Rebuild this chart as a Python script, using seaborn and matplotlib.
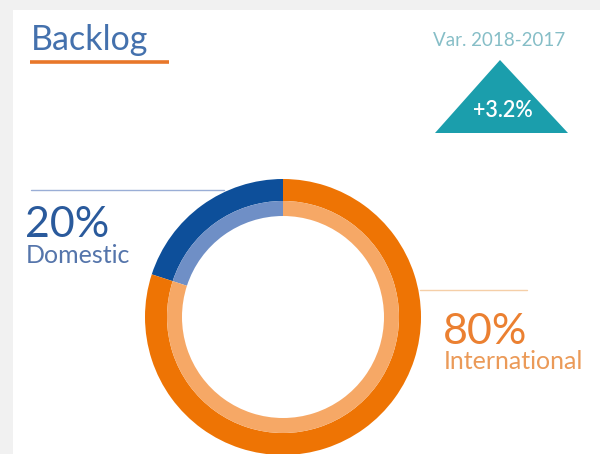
import seaborn as sns
import matplotlib.pyplot as plt
from matplotlib.patches import Rectangle, Polygon

# data
segments = ["Domestic", "International"]
shares = [20, 80]
variation = 3.2
var_label = "Var. 2018-2017"
title = "Backlog"

dark_colors = ["#0d4f9a", "#ee7404"]
light_colors = ["#6f8fc6", "#f6a866"]

sns.set_theme(style="white")
plt.rcParams["font.family"] = ["Lato", "DejaVu Sans"]

fig = plt.figure(figsize=(6, 4.54), dpi=100, facecolor="#f1f1f1")
ax = fig.add_axes([0, 0, 1, 1])
ax.set_facecolor("#f1f1f1")

H = 454  # work in pixel coords, y measured from the top

def Y(y):
    return H - y

# white card
ax.add_patch(Rectangle((13, 0), 600, Y(10), facecolor="white", edgecolor="none", zorder=0))

# donut: outer dark ring + inner light ring
cx, cy = 283, Y(317)
ax.pie(shares, radius=138, center=(cx, cy), startangle=90, colors=dark_colors,
       wedgeprops=dict(width=22, edgecolor="none"), frame=True)
ax.pie(shares, radius=116, center=(cx, cy), startangle=90, colors=light_colors,
       wedgeprops=dict(width=15, edgecolor="none"), frame=True)

ax.set_xlim(0, 600)
ax.set_ylim(0, H)
ax.set_aspect("equal")
ax.axis("off")

# title
ax.text(31, Y(50), title, fontsize=24.5, color="#4471ad", ha="left", va="baseline")
ax.plot([30, 169], [Y(62), Y(62)], color="#e8772a", lw=2.6, solid_capstyle="butt")

# variation badge
ax.text(499, Y(46), var_label, fontsize=13.5, color="#86bec7", ha="center", va="baseline")
ax.add_patch(Polygon([(435, Y(133)), (568, Y(133)), (500, Y(60))], closed=True,
                     facecolor="#1b9eac", edgecolor="none"))
ax.text(503, Y(117), f"+{variation}%", fontsize=15.5, color="white", ha="center",
        va="baseline", fontweight="semibold")

# leader lines
ax.plot([31, 224], [Y(190), Y(190)], color="#9aaed6", lw=1)
ax.plot([420, 527], [Y(290), Y(290)], color="#f5cfa8", lw=1)

# labels
ax.text(25, Y(237), f"{shares[0]}%", fontsize=31, color="#2a5a9c", ha="left",
        va="baseline")
ax.text(26, Y(263), segments[0], fontsize=18, color="#5575ab", ha="left",
        va="baseline")
ax.text(443, Y(344), f"{shares[1]}%", fontsize=31, color="#eb8031", ha="left",
        va="baseline")
ax.text(444, Y(369), segments[1], fontsize=18, color="#eb9a58", ha="left",
        va="baseline")

fig.savefig("out.png", dpi=100, facecolor=fig.get_facecolor())
